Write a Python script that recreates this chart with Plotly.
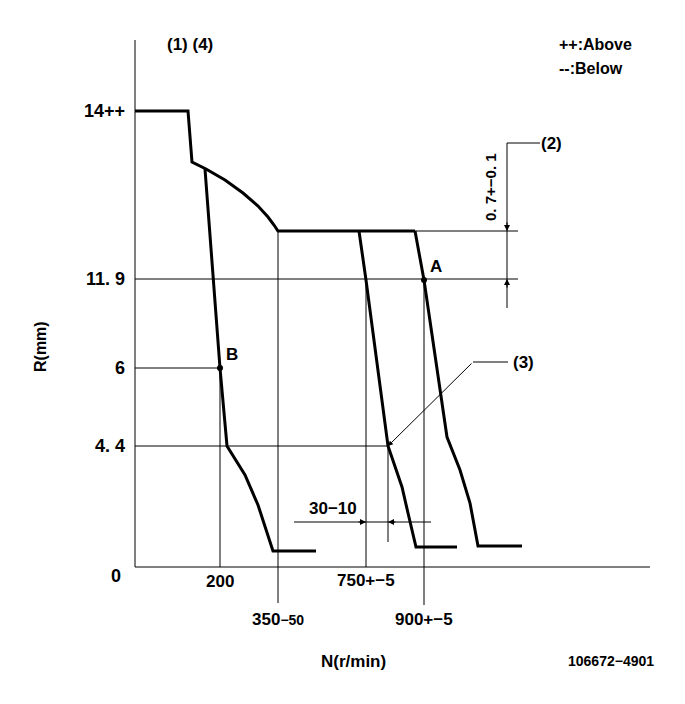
import plotly.graph_objects as go

# Schematic drawing coordinates (drawing units; origin at axis corner)
# Governor characteristic curves
main_x = [0, 53, 57, 71, 90, 108, 123, 133, 139, 143, 280]
main_y = [456, 456, 405, 398, 387, 374, 361, 350, 342, 336, 336]
right_x = [280, 289, 312, 325, 335, 343, 387]
right_y = [336, 287, 130, 97, 64, 21, 21]
mid_x = [224, 231, 253, 267, 273, 281, 322]
mid_y = [336, 287, 121, 80, 54, 20, 20]
left_x = [70, 85, 92, 110, 123, 131, 138, 181]
left_y = [398, 199, 121, 92, 62, 37, 16, 16]

# Reference lines
r_levels = [456, 288, 199, 121]
r_labels = ["14++", "11. 9", "6", "4. 4"]
n_levels = [85, 143, 231, 289]
n_labels = ["200", "350<span style='font-size:14px'>−50</span>", "750+−5", "900+−5"]
n_label_rows = [-14, -52, -13, -52]

point_x = [289, 85]
point_y = [287, 199]
point_names = ["A", "B"]

FONT = "Liberation Sans, Arial, sans-serif"
fig = go.Figure()

def line(xs, ys, w=1):
    fig.add_trace(go.Scatter(x=xs, y=ys, mode="lines", line=dict(color="black", width=w),
                             hoverinfo="skip", showlegend=False))

# axes
line([0, 0], [0, 527])
line([0, 515], [0, 0])
# horizontal guide lines
line([0, 383], [288, 288])
line([143, 383], [336, 336])
line([0, 85], [199, 199])
line([0, 253], [121, 121])
# vertical guide lines
line([85, 85], [0, 199])
line([143, 143], [-36, 336])
line([231, 231], [0, 287])
line([289, 289], [-38, 287])
line([253, 253], [25, 121])
# 30-10 dimension
line([159, 296], [45, 45])
# (2) leader
line([372, 372], [259, 424])
line([372, 405], [424, 424])
# (3) leader
line([338, 373], [205, 205])

# curves
for xs, ys in [(main_x, main_y), (right_x, right_y), (mid_x, mid_y), (left_x, left_y)]:
    line(xs, ys, 3)

fig.add_trace(go.Scatter(x=point_x, y=point_y, mode="markers",
                         marker=dict(color="black", size=6), hoverinfo="skip", showlegend=False))

ann = []
def txt(x, y, t, size=16, xanchor="center", angle=0):
    ann.append(dict(x=x, y=y, text=t, showarrow=False, xanchor=xanchor, yanchor="middle",
                    textangle=angle, font=dict(family=FONT, size=size, color="black")))

for v, t in zip(r_levels, r_labels):
    txt(-8, v, "<b>" + t + "</b>", 18, "right")
txt(-12, -9, "<b>0</b>", 18, "right")
for v, t, r in zip(n_levels, n_labels, n_label_rows):
    txt(v, r, "<b>" + t + "</b>", 17)
for x, y, t in zip(point_x, point_y, point_names):
    txt(x + 12, y + 14, "<b>" + t + "</b>", 17)
txt(-95, 220, "<b>R(mm)</b>", 16, angle=-90)
txt(218, -94, "<b>N(r/min)</b>", 17)
txt(476, -94, "<b>106672−4901</b>", 14)
txt(55, 523, "<b>(1) (4)</b>", 17)
txt(422, 523, "<b>++:Above</b>", 16, "left")
txt(422, 499, "<b>--:Below</b>", 16, "left")
txt(416, 424, "<b>(2)</b>", 17)
txt(355, 380, "<b>0. 7+−0. 1</b>", 15, angle=-90)
txt(388, 205, "<b>(3)</b>", 17)
txt(198, 59, "<b>30−10</b>", 17)

def arrow(x, y, ax, ay):
    ann.append(dict(x=x, y=y, ax=ax, ay=ay, axref="pixel", ayref="pixel", showarrow=True,
                    arrowhead=2, arrowsize=1, arrowwidth=1.2, arrowcolor="black", text="",
                    standoff=0))

arrow(372, 336, 0, -10)
arrow(372, 288, 0, 10)
arrow(231, 45, -9, 0)
arrow(253, 45, 9, 0)
ann.append(dict(x=253, y=121, ax=338, ay=205, axref="x", ayref="y", showarrow=True,
                arrowhead=2, arrowsize=1, arrowwidth=1, arrowcolor="black", text="", standoff=0))

# page body adds an 8px offset, so the figure is drawn 8px smaller and shifted
fig.update_layout(
    width=677, height=696, margin=dict(l=0, r=0, t=0, b=0),
    paper_bgcolor="white", plot_bgcolor="white",
    xaxis=dict(range=[-127, 550], visible=False, fixedrange=True),
    yaxis=dict(range=[-137, 559], visible=False, fixedrange=True),
    annotations=ann, showlegend=False,
)
fig.write_html("out.html")
